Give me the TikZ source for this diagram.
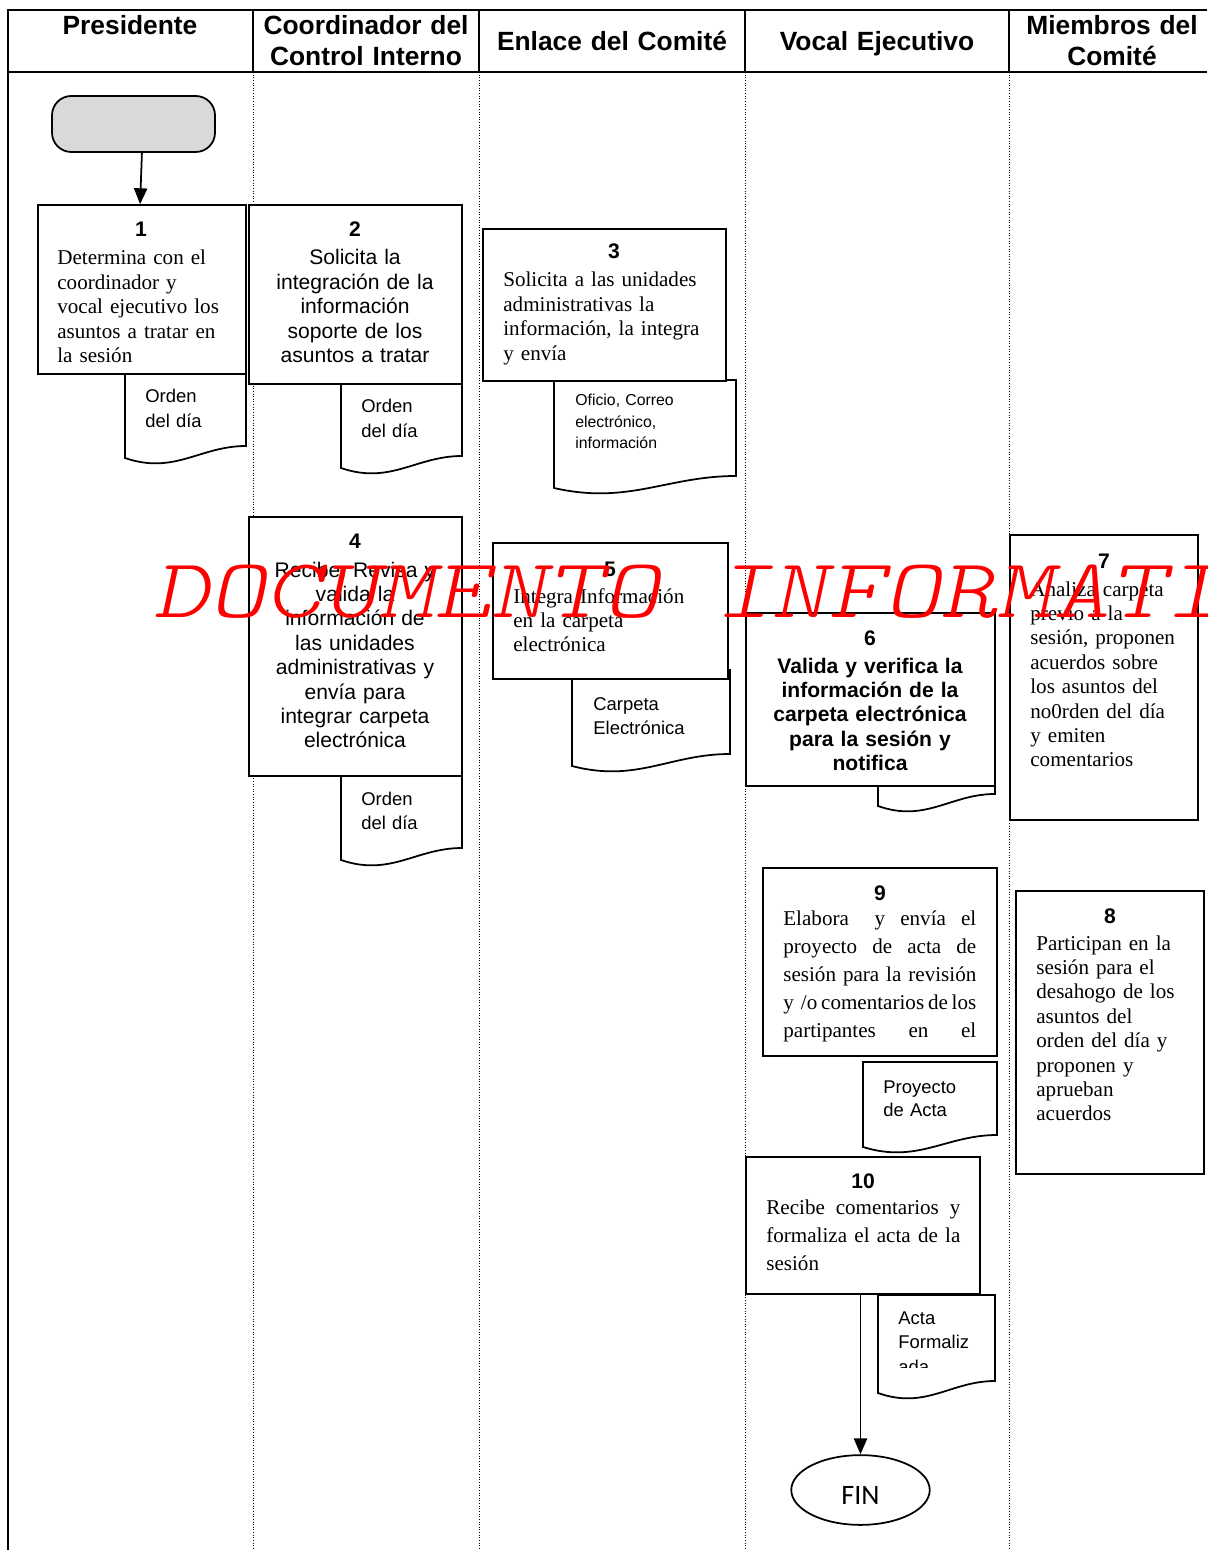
\documentclass[tikz,border=0pt]{standalone}
\usepackage{fontspec}
\usetikzlibrary{arrows.meta,positioning,fit,shapes.geometric}
\newfontfamily\arialf{Liberation Sans}
\newfontfamily\timesf{Liberation Serif}
\newfontfamily\calf{Carlito}
\newfontfamily\markfont{lmmonolt10-oblique.otf}
\definecolor{startgray}{RGB}{217,217,217}

% documento: x izq, y arriba, x der, y abajo (extremo izquierdo)
\newcommand{\docshape}[4]{%
  \draw[docline] (#1,#2) -- (#3,#2) -- (#3,#4-12)
    .. controls ({#3-0.38*(#3-#1)},#4-12) and ({#1+0.41*(#3-#1)},#4+17) .. (#1,#4) -- cycle;}

\tikzset{
  lanetitle/.style={font=\arialf\bfseries\fontsize{15}{17.6}\selectfont, align=center, text width=4.6cm, anchor=base, inner sep=0pt},
  stepbox/.style={draw, line width=1pt, fill=white, inner sep=0pt},
  stepnum/.style={font=\arialf\bfseries\fontsize{12}{14}\selectfont, inner sep=0pt},
  romantext/.style={font=\timesf\fontsize{12}{13.9}\selectfont, align=left, text width=4.4cm, anchor=base west, inner sep=0pt},
  sanstext/.style={font=\arialf\fontsize{12}{13.9}\selectfont, align=center, text width=4.6cm, anchor=base, inner sep=0pt},
  doctext/.style={font=\arialf\fontsize{10.5}{14.1}\selectfont, align=left, text width=2.2cm, anchor=base west, inner sep=0pt},
  docline/.style={draw, line width=1pt, fill=white},
  flow/.style={line width=1pt, -{Triangle[length=9pt,width=7.5pt]}},
  lane/.style={densely dotted, line width=0.5pt},
}

\begin{document}
\begin{tikzpicture}[x=0.02cm,y=-0.02cm]
\useasboundingbox (0,0) rectangle (1207,1550);

% carriles
\draw[line width=1.2pt] (8,1550) -- (8,10) -- (1207,10);
\draw[line width=1.2pt] (8,72) -- (1207,72);
\foreach \x in {253,479,745,1009}{
  \draw[line width=0.8pt] (\x,10) -- (\x,72);
  \draw[lane] (\x,72) -- (\x,1550);
}
\node[lanetitle] (tpres) at (130,35) {Presidente};
\node[lanetitle] (tcoord) at (366,35) {Coordinador del\\Control Interno};
\node[lanetitle] (tenlace) at (612,51) {Enlace del Comité};
\node[lanetitle] (tvocal) at (877,51) {Vocal Ejecutivo};
\node[lanetitle] (tmiem) at (1112,35) {Miembros del\\Comité};

% documentos (debajo de las cajas)
\docshape{125}{360}{246}{458}
\docshape{341}{370}{462}{468}
\docshape{554}{380}{736}{488}
\docshape{341}{770}{462}{860}
\docshape{572}{670}{730}{766}
\docshape{878}{735}{995}{806}
\docshape{863}{1062}{997}{1147}
\docshape{878}{1295}{995}{1393}

% inicio
\node[draw, line width=1pt, fill=startgray, rounded corners=11pt, inner sep=0pt, fit={(52,96) (215,152)}] (inicio) {};

% pasos
\node[stepbox, fit={(38,205) (246,374)}] (b1) {};
\node[stepbox, fit={(249,205) (462,384)}] (b2) {};
\node[stepbox, fit={(483,229) (726,381)}] (b3) {};
\node[stepbox, fit={(249,517) (462,776)}] (b4) {};
\node[stepbox, fit={(493,543) (728,679)}] (b5) {};
\node[stepbox, fit={(746,613) (995,786)}] (b6) {};
\node[stepbox, fit={(1010,535) (1198,820)}] (b7) {};
\node[stepbox, fit={(1016,891) (1204,1174)}] (b8) {};
\node[stepbox, fit={(763,868) (997,1056)}] (b9) {};
\node[stepbox, fit={(746,1157) (980,1294)}] (b10) {};

\node[stepnum] (n1) at (141,229) {1};
\node[stepnum] (n2) at (355,229) {2};
\node[stepnum] (n3) at (614,251) {3};
\node[stepnum] (n4) at (355,541) {4};
\node[stepnum] (n5) at (610,569) {5};
\node[stepnum] (n6) at (870,638) {6};
\node[stepnum] (n7) at (1104,561) {7};
\node[stepnum] (n8) at (1110,916) {8};
\node[stepnum] (n9) at (880,893) {9};
\node[stepnum] (n10) at (863,1181) {10};

\node[romantext] (t1) at (57,265) {Determina con el\\coordinador y\\vocal ejecutivo los\\asuntos a tratar en\\la sesión};
\node[sanstext] (t2) at (355,265) {Solicita la\\integración de la\\información\\soporte de los\\asuntos a tratar};
\node[romantext] (t3) at (503,287) {Solicita a las unidades\\administrativas la\\información, la integra\\y envía};
\node[sanstext] (t4) at (355,577) {Recibe, Revisa y\\valida la\\información de\\las unidades\\administrativas y\\envía para\\integrar carpeta\\electrónica};
\node[romantext] (t5) at (513,603) {Integra Información\\en la carpeta\\electrónica};
\node[sanstext, font=\arialf\bfseries\fontsize{12}{13.9}\selectfont] (t6) at (870,673) {Valida y verifica la\\información de la\\carpeta electrónica\\para la sesión y\\notifica};
\node[romantext] (t7) at (1030,596) {Analiza carpeta\\previo a la\\sesión, proponen\\acuerdos sobre\\los asuntos del\\no0rden del día\\y emiten\\comentarios};
\node[romantext] (t8) at (1036,950) {Participan en la\\sesión para el\\desahogo de los\\asuntos del\\orden del día y\\proponen y\\aprueban\\acuerdos};
\node[romantext, text width=3.86cm, font=\timesf\fontsize{12}{16}\selectfont] (t9) at (783,925)
  {\makebox[3.86cm][l]{Elabora\hskip 0pt plus 1.7fill y\hfill envía\hfill el}\\
   \makebox[3.86cm][l]{proyecto\hfill de\hfill acta\hfill de}\\
   \makebox[3.86cm][l]{sesión\hfill para\hfill la\hfill revisión}\\
   \makebox[3.86cm][l]{y /o\hfill comentarios\hfill de\hfill los}\\
   \makebox[3.86cm][l]{partipantes\hfill en\hfill el}};
\node[romantext, text width=3.88cm, font=\timesf\fontsize{12}{16}\selectfont] (t10) at (766,1214)
  {\makebox[3.88cm][l]{Recibe\hfill comentarios\hfill y}\\
   \makebox[3.88cm][l]{formaliza\hfill el\hfill acta\hfill de\hfill la}\\
   sesión};

% textos de documentos
\node[doctext] (d1) at (145,403) {Orden\\del día};
\node[doctext] (d2) at (361,413) {Orden\\del día};
\node[doctext, font=\arialf\fontsize{9}{12.2}\selectfont] (d3) at (575,406) {Oficio, Correo\\electrónico,\\información};
\node[doctext] (d4) at (361,805) {Orden\\del día};
\node[doctext] (d5) at (593,710) {Carpeta\\Electrónica};
\node[doctext, font=\arialf\fontsize{10.5}{13.3}\selectfont] (d9) at (883,1093) {Proyecto\\de Acta};
\begin{scope}
  \clip (878,1297) rectangle (993,1367);
  \node[doctext] (d10) at (898,1324) {Acta\\Formaliz\\ada};
\end{scope}

% fin
\node[draw, ellipse, line width=1pt, minimum width=78.8pt, minimum height=39.7pt, inner sep=0pt, font=\calf\fontsize{16}{18}\selectfont] (fin) at (860.5,1490) {\raisebox{-3.2pt}[\height][0pt]{FIN}};

% flechas
\draw[flow] ([xshift=4.8pt]inicio.south) -- ([xshift=-1.1pt]b1.north);
\draw[flow] (b10.south -| fin.north) -- (fin.north);

% marca de agua
\begin{scope}
  \clip (0,0) rectangle (1207,1550);
  \node[font=\markfont\fontsize{48}{48}\selectfont, text=red, anchor=base west, inner sep=0pt] (marca) at (153,617) {\scalebox{1.27}[1]{DOCUMENTO INFORMATIVO}};
\end{scope}
\end{tikzpicture}
\end{document}
